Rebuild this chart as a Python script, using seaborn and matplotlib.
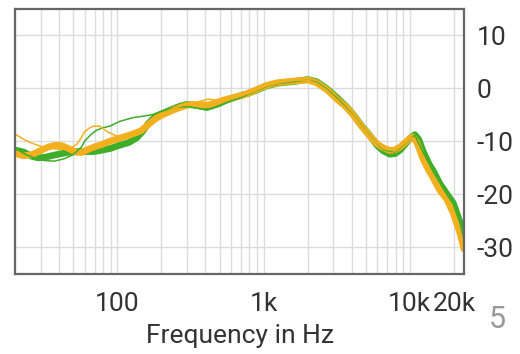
import matplotlib
matplotlib.use("Agg")
import matplotlib.pyplot as plt
import matplotlib.ticker as mticker
import numpy as np
import pandas as pd
import seaborn as sns

# ---- data ----
orange_thick_f = [20, 23, 26, 30, 34, 38, 42, 47, 52, 57, 63, 70, 78, 88, 100, 115, 130, 145,
                  165, 185, 210, 240, 280, 320, 370, 420, 480, 560, 650, 770, 900, 1050, 1250,
                  1600, 2000, 2300, 2700, 3200, 3700, 4100, 4700, 5300, 6000, 6600, 7300, 7900,
                  8600, 9300, 10000, 10500, 11200, 12300, 13500, 14500, 16000, 17800, 19800,
                  22000, 23400]
orange_thick_db = [-12.3, -12.7, -12.5, -11.7, -11.0, -10.7, -10.8, -11.4, -12.0, -12.1, -11.5,
                   -11.0, -10.6, -10.0, -9.5, -9.0, -8.5, -8.0, -6.7, -5.6, -4.8, -4.1, -3.4,
                   -3.0, -3.1, -3.1, -2.6, -2.0, -1.6, -1.0, -0.2, 0.6, 1.1, 1.4, 1.6, 1.1, -0.2,
                   -2.1, -3.6, -5.0, -7.2, -8.9, -10.5, -11.2, -11.7, -11.6, -11.0, -10.2, -9.4,
                   -9.1, -10.3, -13.3, -15.5, -17.0, -19.2, -20.8, -23.5, -27.3, -30.3]

green_thick_f = [20, 23, 26, 29, 33, 38, 45, 52, 60, 70, 80, 90, 104, 120, 136, 150, 161, 180,
                 200, 233, 270, 300, 350, 410, 480, 560, 650, 770, 900, 1050, 1250, 1600, 2000,
                 2300, 2700, 3200, 3700, 4100, 4700, 5300, 6000, 6600, 7300, 7900, 8600, 9300,
                 10000, 10800, 11500, 12300, 13500, 14500, 16000, 17800, 19800, 22000, 23400]
green_thick_db = [-11.6, -12.0, -12.8, -13.1, -12.9, -12.5, -12.1, -11.9, -11.9, -11.9, -11.6,
                  -11.3, -10.7, -10.2, -9.3, -8.0, -6.8, -5.4, -4.8, -4.0, -3.3, -3.0, -3.2,
                  -3.6, -3.0, -2.2, -1.6, -1.0, -0.3, 0.5, 1.0, 1.3, 1.7, 1.3, 0.0, -1.8, -3.5,
                  -4.9, -7.1, -8.8, -10.8, -11.8, -12.4, -12.3, -11.6, -10.5, -9.4, -8.7, -9.6,
                  -11.8, -14.2, -15.6, -17.9, -19.8, -21.6, -25.2, -28.2]

orange_thin_f = [20, 23, 26, 30, 34, 40, 47, 53, 57, 60, 65, 69, 76, 85, 94, 100, 115, 130, 145,
                 165, 185, 210, 240, 280, 320, 370, 420, 470, 530, 600, 700, 800, 900, 1050, 1250,
                 1600, 2000, 2300, 2700, 3200, 4100, 5300, 6600, 7900, 9300, 10500, 12300, 14500,
                 17800, 19800, 22000, 23400]
orange_thin_db = [-8.6, -9.6, -10.3, -10.9, -11.2, -11.5, -11.4, -10.5, -9.2, -8.1, -7.4, -7.1,
                  -7.1, -8.1, -8.7, -9.0, -8.7, -8.2, -7.7, -6.5, -5.5, -4.6, -3.8, -3.2, -2.9,
                  -2.4, -2.0, -2.2, -2.4, -2.0, -1.4, -0.9, -0.3, 0.5, 1.0, 1.5, 1.6, 1.0, -0.3,
                  -2.2, -5.1, -9.0, -11.4, -11.8, -10.3, -9.2, -13.2, -17.0, -20.7, -23.6, -27.4,
                  -30.4]

green_thin_f = [20, 23, 27, 32, 37, 43, 50, 57, 60, 66, 72, 80, 89, 104, 128, 152, 175, 196,
                225, 260, 300, 350, 400, 450, 520, 600, 700, 800, 900, 1050, 1250, 1600, 2000,
                2300, 2700, 3200, 4100, 5300, 6600, 7900, 9300, 10800, 12300, 14500, 17800,
                19800, 22000, 23400]
green_thin_db = [-11.2, -12.3, -13.1, -13.6, -13.7, -13.3, -12.5, -11.0, -9.9, -8.7, -7.9, -7.4,
                 -7.1, -6.2, -5.5, -5.2, -4.9, -4.4, -3.9, -3.5, -3.4, -3.7, -4.0, -3.7, -3.0,
                 -2.3, -1.7, -1.0, -0.4, 0.4, 0.9, 1.3, 1.6, 1.2, -0.1, -1.9, -5.0, -8.9, -11.6,
                 -12.0, -10.4, -8.8, -12.0, -15.8, -19.9, -21.8, -25.4, -28.4]

x_ticks = [100, 1000, 10000, 20000]
x_tick_labels = ["100", "1k", "10k", "20k"]
y_ticks = [10, 0, -10, -20, -30]
x_label = "Frequency in Hz"
corner_text = "5"

GREEN = "#3eae2a"
ORANGE = "#f2b01e"

# ---- plotting ----
sns.set_theme(style="white")
plt.rcParams["font.family"] = ["Roboto", "DejaVu Sans"]
plt.rcParams["axes.unicode_minus"] = False

fig = plt.figure(figsize=(5.2, 3.54), dpi=100)
ax = fig.add_axes([15 / 520, 1 - 274 / 354, (464 - 15) / 520, (274 - 9) / 354])

series = [
    (green_thick_f, green_thick_db, GREEN, 4.8),
    (orange_thick_f, orange_thick_db, ORANGE, 4.8),
    (green_thin_f, green_thin_db, GREEN, 1.1),
    (orange_thin_f, orange_thin_db, ORANGE, 1.1),
]
for f, db, col, lw in series:
    df = pd.DataFrame({"f": f, "db": db})
    sns.lineplot(data=df, x="f", y="db", ax=ax, color=col, linewidth=lw,
                 sort=False, estimator=None, solid_capstyle="round",
                 solid_joinstyle="round")

ax.set_xscale("log")
ax.set_xlim(20, 23440)
ax.set_ylim(-35, 15)

ax.xaxis.set_major_locator(mticker.FixedLocator(x_ticks))
ax.xaxis.set_major_formatter(mticker.FixedFormatter(x_tick_labels))
ax.xaxis.set_minor_locator(mticker.LogLocator(base=10, subs=np.arange(1, 10)))
ax.xaxis.set_minor_formatter(mticker.NullFormatter())
ax.set_yticks(y_ticks)
ax.yaxis.tick_right()

ax.grid(True, which="both", axis="x", color="#dcdcdc", linewidth=1.0)
ax.grid(True, which="major", axis="y", color="#dcdcdc", linewidth=1.0)
ax.set_axisbelow(True)

ax.tick_params(axis="both", which="both", length=0, labelsize=19, colors="#333333")
ax.tick_params(axis="x", pad=13)
ax.tick_params(axis="y", pad=9)

for s in ax.spines.values():
    s.set_visible(True)
    s.set_color("#666666")
    s.set_linewidth(1.6)

ax.set_xlabel(x_label, fontsize=19, color="#333333", labelpad=6)
ax.set_ylabel("")

fig.text(497 / 520, 1 - 319 / 354, corner_text, fontsize=22, color="#999999",
         ha="center", va="center")

fig.savefig("out.png", dpi=100)
